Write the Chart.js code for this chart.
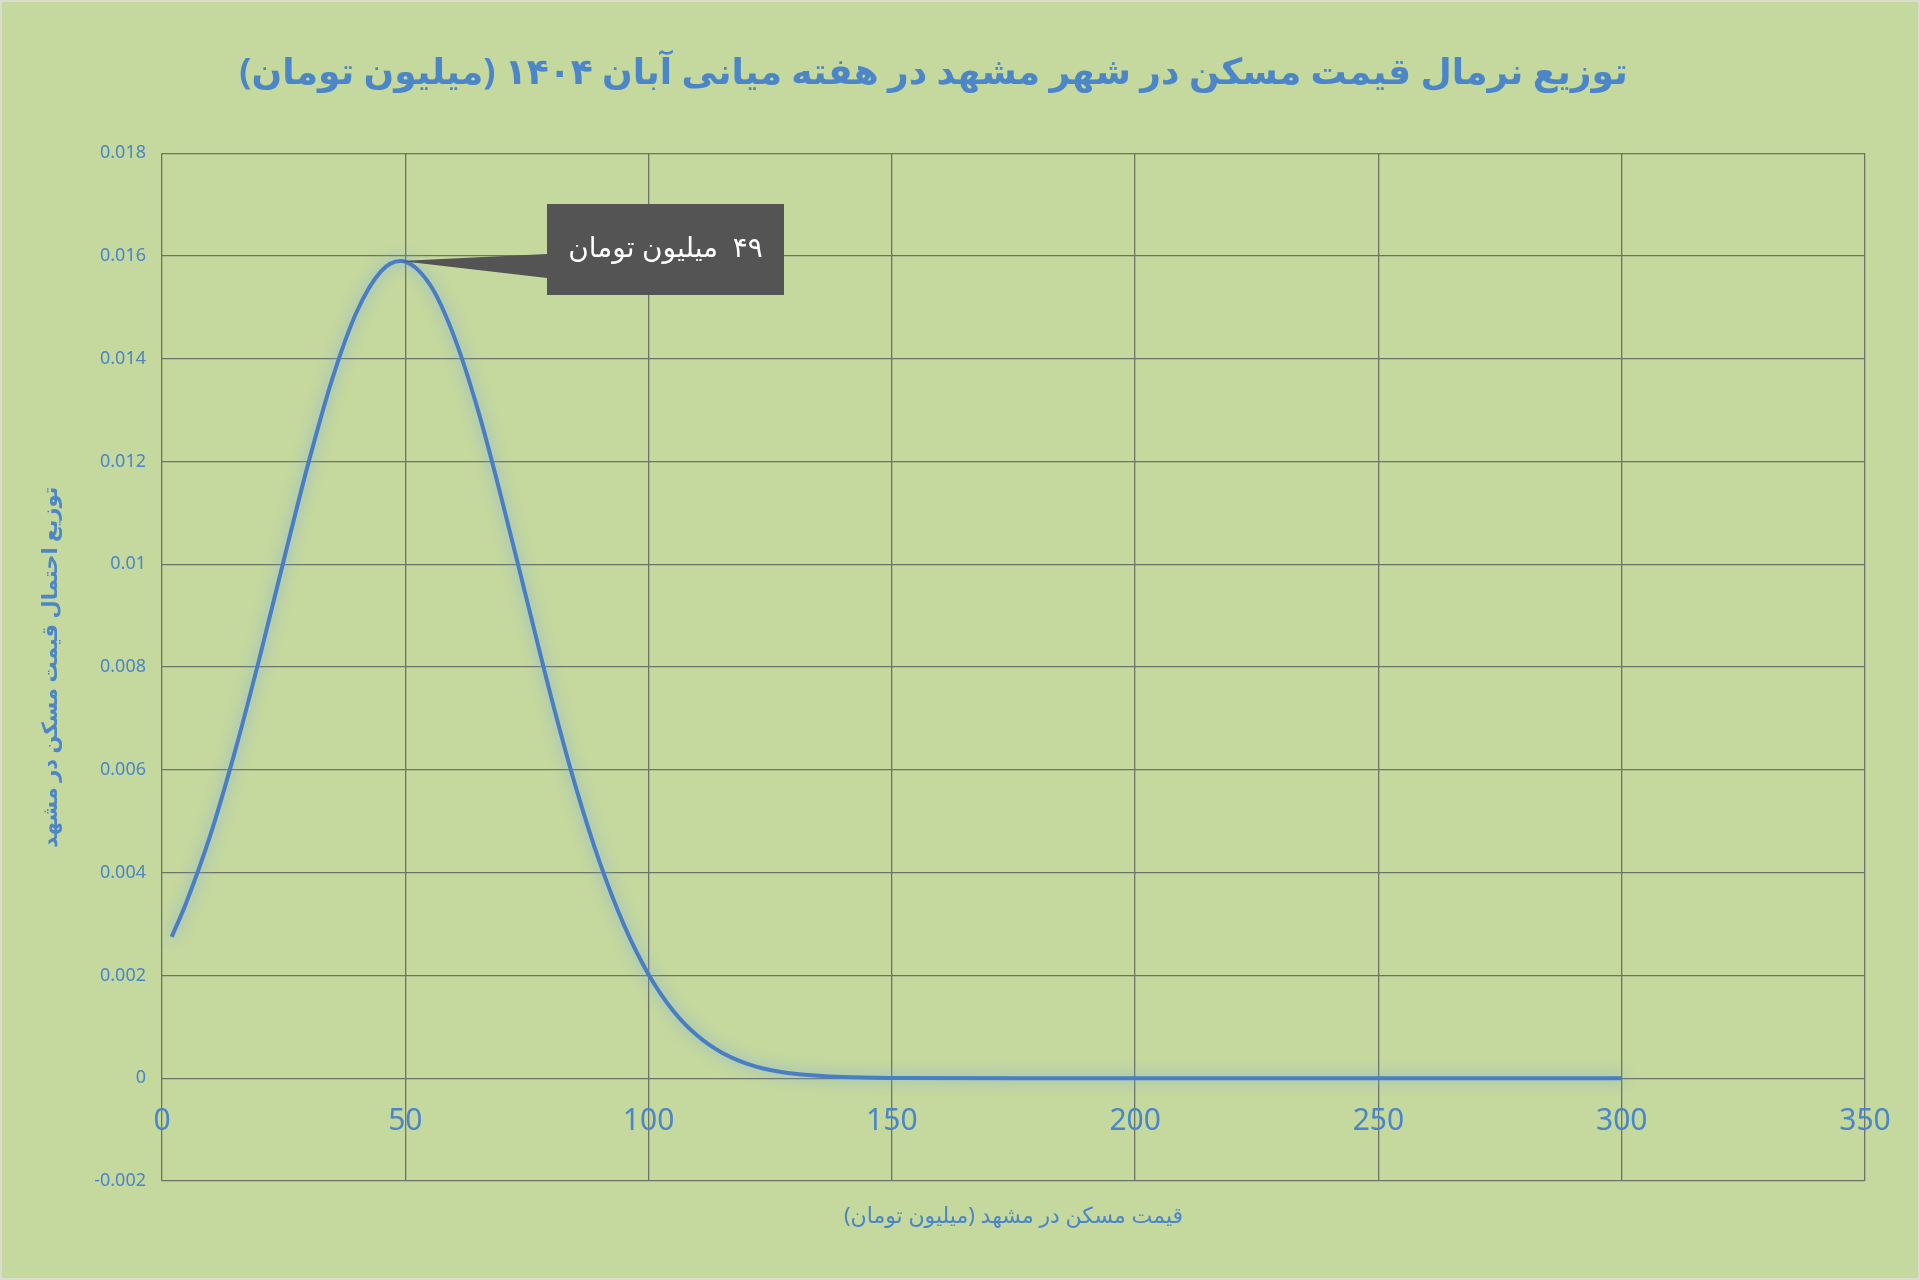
<!DOCTYPE html>
<html><head><meta charset="utf-8">
<script src="https://cdn.jsdelivr.net/npm/chart.js@4"></script>
<style>html,body{margin:0;padding:0;background:#c5d89e;}#w{width:1920px;height:1280px;box-sizing:border-box;border:2px solid #d8ddd0;}</style>
</head><body><div id="w"><canvas id="c" width="1916" height="1276"></canvas></div>
<script>
const prices = [2,5,10,15,20,25,30,35,40,45,49,55,60,65,70,75,80,85,90,95,100,105,110,115,120,125,130,140,150,175,200,225,250,275,300];
const density = [0.00275,0.00342,0.00475,0.00636,0.00816,0.01007,0.01194,0.01361,0.01491,0.01570,0.0159,0.01545,0.01444,0.01298,0.01120,0.00930,0.00741,0.00568,0.00419,0.00297,0.00202,0.00132,0.00083,0.00050,0.00029,0.00016,0.000087,0.000022,0.000005,0,0,0,0,0,0];
const xTicks = [0,50,100,150,200,250,300,350];
const peakLabel = "۴۹  میلیون تومان";
const blue = '#4a86c8';
const font = "'Noto Sans','DejaVu Sans',sans-serif";

const overlay = {
  id:'overlay',
  afterDraw(chart){
    const ctx=chart.ctx, xs=chart.scales.x, ys=chart.scales.y;
    ctx.save();
    ctx.fillStyle=blue; ctx.font="30px "+font; ctx.textAlign='center'; ctx.textBaseline='top';
    const y0=ys.getPixelForValue(0);
    xTicks.forEach(t=>ctx.fillText(String(t), xs.getPixelForValue(t), y0+28));
    const i=prices.indexOf(49);
    const px=xs.getPixelForValue(prices[i]), py=ys.getPixelForValue(density[i]);
    const bx=545, by=202, bw=237, bh=91;
    ctx.fillStyle='#545454';
    ctx.beginPath(); ctx.moveTo(px,py); ctx.lineTo(bx,by+50); ctx.lineTo(bx,by+74); ctx.closePath(); ctx.fill();
    ctx.fillRect(bx,by,bw,bh);
    ctx.fillStyle='#ffffff'; ctx.font="28px "+font; ctx.textBaseline='middle'; ctx.textAlign='center';
    ctx.direction='rtl';
    ctx.fillText(peakLabel, bx+bw/2, by+bh/2);
    ctx.restore();
  }
};

new Chart(document.getElementById('c'),{
  type:'line',
  data:{datasets:[{data:prices.map((p,k)=>({x:p,y:density[k]})),borderColor:'#4a7ec4',borderWidth:4,pointRadius:0,cubicInterpolationMode:'monotone',fill:false}]},
  options:{
    responsive:false,animation:false,
    layout:{padding:{left:0,right:53,top:0,bottom:0}},
    plugins:{legend:{display:false},tooltip:{enabled:false},
      title:{display:true,text:'توزیع نرمال قیمت مسکن در شهر مشهد در هفته میانی آبان ۱۴۰۴ (میلیون تومان)',color:blue,font:{family:font,size:36,weight:'bold'},padding:{top:50,bottom:58}}},
    scales:{
      x:{type:'linear',min:0,max:350,
        ticks:{display:false,stepSize:50},
        grid:{color:'#6e7366',lineWidth:1.3,drawTicks:false},border:{display:false},
        title:{display:true,text:'قیمت مسکن در مشهد (میلیون تومان)',color:blue,font:{family:font,size:22},padding:{top:4,bottom:48}},
        afterFit(s){s.height=97;}},
      y:{min:-0.002,max:0.018,
        ticks:{stepSize:0.002,color:blue,font:{family:font,size:18},padding:16,callback:v=>String(Number(v.toFixed(3)))},
        grid:{color:'#6e7366',lineWidth:1.3,drawTicks:false},border:{display:false},
        title:{display:true,text:'توزیع احتمال قیمت مسکن در مشهد',color:blue,font:{family:font,size:21,weight:'bold'},padding:{top:36,bottom:0}},
        afterFit(s){s.width=160;}}
    }
  },
  plugins:[overlay,{id:'glow',beforeDatasetsDraw(c){c.ctx.save();c.ctx.shadowColor='rgba(120,170,230,0.9)';c.ctx.shadowBlur=14;},afterDatasetsDraw(c){c.ctx.restore();}}]
});
</script></body></html>
